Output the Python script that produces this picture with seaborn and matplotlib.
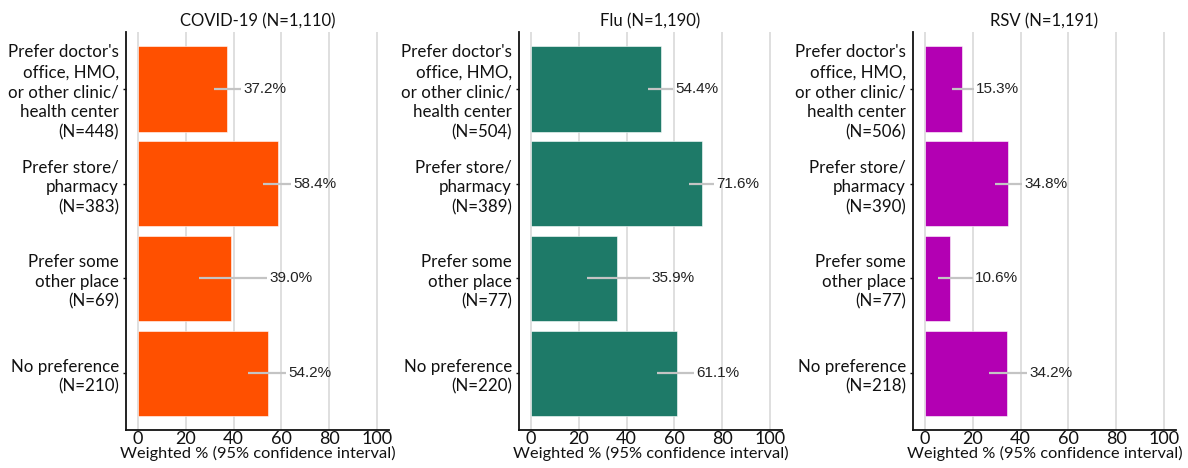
import matplotlib
matplotlib.use("Agg")
import matplotlib.pyplot as plt
import seaborn as sns
import pandas as pd

sns.set_theme(style="white")
plt.rcParams["font.family"] = ["Lato", "DejaVu Sans"]

categories = ["Prefer doctor's\noffice, HMO,\nor other clinic/\nhealth center",
              "Prefer store/\npharmacy",
              "Prefer some\nother place",
              "No preference"]

panels = ["COVID-19 (N=1,110)", "Flu (N=1,190)", "RSV (N=1,191)"]
colors = ["#FF5000", "#1E7A68", "#B300B3"]

covid_n = [448, 383, 69, 210]
covid_pct = [37.2, 58.4, 39.0, 54.2]
covid_lo = [31.8, 52.4, 25.5, 45.9]
covid_hi = [43.1, 64.0, 54.0, 61.9]

flu_n = [504, 389, 77, 220]
flu_pct = [54.4, 71.6, 35.9, 61.1]
flu_lo = [48.9, 65.9, 23.6, 52.9]
flu_hi = [59.6, 76.4, 49.6, 68.3]

rsv_n = [506, 390, 77, 218]
rsv_pct = [15.3, 34.8, 10.6, 34.2]
rsv_lo = [11.3, 29.5, 5.3, 26.8]
rsv_hi = [20.4, 40.5, 20.0, 42.6]

xticks = [0, 20, 40, 60, 80, 100]
xlabel = "Weighted % (95% confidence interval)"

series = [(covid_n, covid_pct, covid_lo, covid_hi),
          (flu_n, flu_pct, flu_lo, flu_hi),
          (rsv_n, rsv_pct, rsv_lo, rsv_hi)]

fig = plt.figure(figsize=(11.88, 4.68), dpi=100)
lefts = [126 / 1188, 519 / 1188, 913 / 1188]
width = 263 / 1188
bottom = 1 - 430 / 468
height = (430 - 32) / 468

for i, (title, color, (ns, pct, lo, hi)) in enumerate(zip(panels, colors, series)):
    ax = fig.add_axes([lefts[i], bottom, width, height])
    labels = [f"{c}\n(N={n})" for c, n in zip(categories, ns)]
    df = pd.DataFrame({"label": labels, "pct": pct, "lo": lo, "hi": hi})
    ax.set_axisbelow(True)
    ax.xaxis.grid(True, color="#D9D9D9", linewidth=1.2)
    ax.yaxis.grid(False)
    sns.barplot(data=df, y="label", x="pct", orient="h", color=color,
                saturation=1, width=0.9, errorbar=None, ax=ax,
                edgecolor="white", linewidth=0.4, zorder=2)
    ypos = range(len(df))
    ax.hlines(ypos, df["lo"], df["hi"], color="#C4C4C4", linewidth=1.6, zorder=3)
    for y, h, p in zip(ypos, df["hi"], df["pct"]):
        ax.text(h + 1.0, y, f"{p:.1f}%", va="center", ha="left",
                fontsize=11, family=["Liberation Sans", "DejaVu Sans"],
                color="#222222", zorder=4)
    ax.set_xlim(-5, 105)
    ax.set_ylim(3.6, -0.6)
    ax.set_xticks(xticks)
    ax.set_xticklabels([str(t) for t in xticks], fontsize=13)
    ax.set_title(title, fontsize=12, pad=4, color="#111111")
    ax.set_xlabel(xlabel, fontsize=11.8, labelpad=-1, color="#111111")
    ax.set_ylabel("")
    ax.tick_params(axis="y", labelsize=12.2, length=2, width=1, left=True,
                   pad=3, colors="#111111")
    ax.tick_params(axis="x", length=0, pad=1, colors="#111111")
    for s in ["top", "right"]:
        ax.spines[s].set_visible(False)
    for s in ["left", "bottom"]:
        ax.spines[s].set_color("#111111")
        ax.spines[s].set_linewidth(1.3)
    for t in ax.get_yticklabels():
        t.set_multialignment("right")
        t.set_linespacing(1.3)

fig.savefig("out.png", dpi=100)
